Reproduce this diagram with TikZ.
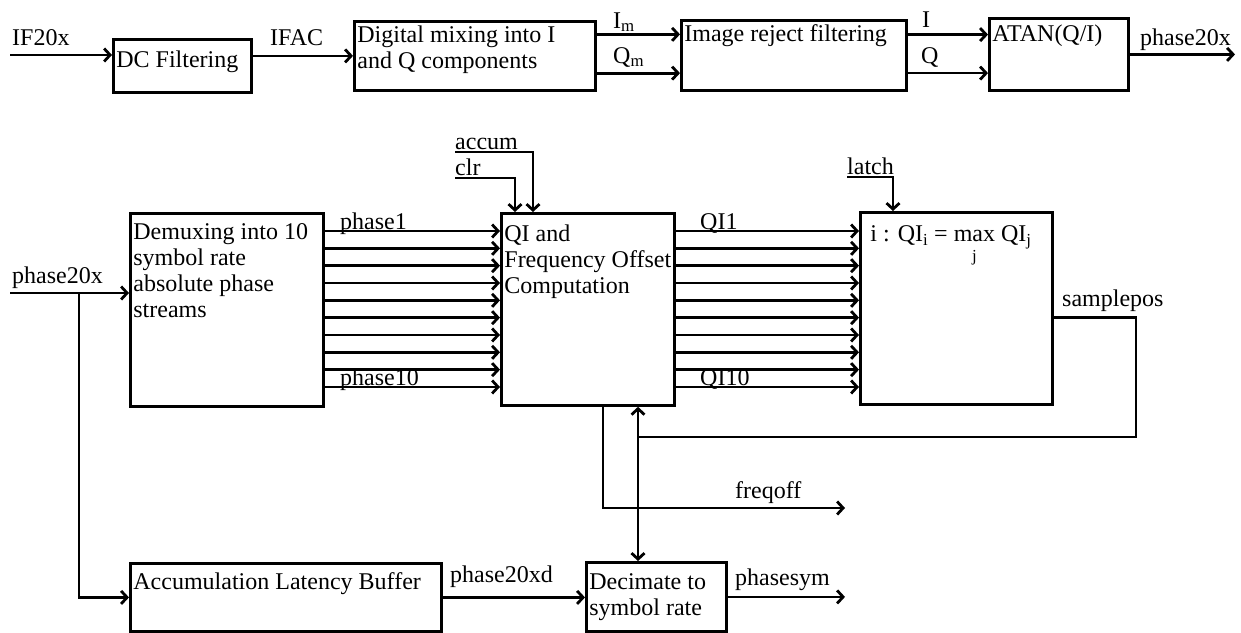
\documentclass[tikz,border=0pt]{standalone}
\usepackage{fontspec}
\usepackage{amsmath}
\setmainfont{Liberation Serif}
\usetikzlibrary{arrows.meta,calc}
% top-aligned text inside a fixed box: width, height, first baseline, text
\newcommand{\blktxt}[4]{\parbox[b][#2][t]{#1}{\leftskip=3pt\rightskip=0pt plus 1fil\parfillskip=0pt plus 1fil\rule{0pt}{#3}#4}}
\tikzset{
  sigarr/.style={-{Straight Barb[length=6pt,width=13pt]}, line width=2.8pt},
  dblarr/.style={{Straight Barb[length=6pt,width=13pt]}-{Straight Barb[length=6pt,width=13pt]}, line width=2.8pt},
  sigline/.style={line width=2.8pt},
  blk/.style={draw, line width=2.8pt, anchor=north west, inner sep=0pt},
  siglbl/.style={anchor=base west, inner sep=0pt},
}
\begin{document}
\begin{tikzpicture}[x=1pt, y=-1pt, font=\fontsize{24}{26}\selectfont]
  \useasboundingbox (0,0) rectangle (1241,632);
  % front end
  \node[blk] (dc) at (112,38) {\blktxt{138pt}{53pt}{28pt}{DC Filtering}};
  \node[blk] (mix) at (353,20) {\blktxt{241pt}{69pt}{21pt}{Digital mixing into I\\and Q components}};
  \node[blk] (irf) at (680,19) {\blktxt{225pt}{70pt}{21pt}{Image reject filtering}};
  \node[blk] (atan) at (988,17) {\blktxt{139pt}{72pt}{23pt}{ATAN(Q/I)}};
  \coordinate (ifin) at (10,55);
  \coordinate (phout) at (1235,53);
  \draw[sigarr] (ifin) -- (ifin -| dc.west);
  \draw[sigarr] (dc.east |- mix.west) -- (mix.west);
  \coordinate (im) at ($(mix.north east)!0.2!(mix.south east)$);
  \coordinate (qm) at ($(mix.north east)!0.74!(mix.south east)$);
  \draw[sigarr] (im) -- (im -| irf.west);
  \draw[sigarr] (qm) -- (qm -| irf.west);
  \coordinate (ii) at ($(irf.north east)!0.214!(irf.south east)$);
  \coordinate (qq) at ($(irf.north east)!0.743!(irf.south east)$);
  \draw[sigarr] (ii) -- (ii -| atan.west);
  \draw[sigarr] (qq) -- (qq -| atan.west);
  \draw[sigarr] (atan.east) -- (atan.east -| phout);
  \node[siglbl] (lif) at (12,45) {IF20x};
  \node[siglbl] (lifac) at (270,45) {IFAC};
  \node[siglbl] (lim) at (613,28) {I\textsubscript{m}};
  \node[siglbl] (lqm) at (613,63) {Q\textsubscript{m}};
  \node[siglbl] (li) at (922,27) {I};
  \node[siglbl] (lq) at (921,63) {Q};
  \node[siglbl] (lph) at (1140,45) {phase20x};

  % symbol timing recovery
  \node[blk] (dmx) at (129,212) {\blktxt{193pt}{193pt}{26pt}{Demuxing into 10\\symbol rate\\absolute phase\\streams}};
  \node[blk] (qi) at (500,212) {\blktxt{173pt}{192pt}{28pt}{QI and\\Frequency~Offset\\Computation}};
  \node[blk] (mx) at (859,211) {\blktxt{192pt}{192pt}{29pt}{\hspace*{7pt}i : QI\textsubscript{i} = $\underset{\text{\raisebox{-5pt}{j}}}{\text{max}}$ QI\textsubscript{j}}};
  \node[blk] (acc) at (129,562) {\blktxt{311pt}{68pt}{26pt}{Accumulation Latency Buffer}};
  \node[blk] (dec) at (585,561) {\blktxt{140pt}{69pt}{27pt}{Decimate to\\symbol rate}};
  \foreach \k in {0,...,9}{
    \coordinate (d\k) at ($(dmx.north east)+(0,{19+17.33*\k})$);
    \draw[sigarr] (d\k) -- (d\k -| qi.west);
    \coordinate (q\k) at ($(qi.north east)+(0,{19+17.33*\k})$);
    \draw[sigarr] (q\k) -- (q\k -| mx.west);
  }
  \node[siglbl] (lp1) at (340,229) {phase1};
  \node[siglbl] (lp10) at (340,385) {phase10};
  \node[siglbl] (lq1) at (700,229) {QI1};
  \node[siglbl] (lq10) at (700,385) {QI10};

  \coordinate (phin) at (10,293);
  \coordinate (br) at (79,293);
  \draw[sigarr] (phin) -- (phin -| dmx.west);
  \draw[sigarr] (br) |- (acc.west);
  \node[siglbl] (lphin) at (12,283) {phase20x};

  \node[siglbl] (lacc) at (455,149) {accum};
  \node[siglbl] (lclr) at (455,175) {clr};
  \node[siglbl] (llat) at (847,174) {latch};
  \draw[sigarr] (lacc.base west) ++(0,3) -| ($(qi.north west)+(33,0)$);
  \draw[sigarr] (lclr.base west) ++(0,3) -| ($(qi.north west)+(15,0)$);
  \draw[sigarr] (llat.base west) ++(0,3) -| ($(mx.north west)+(34,0)$);

  % feedback and outputs
  \coordinate (vx) at ($(dec.north west)+(53,0)$);
  \coordinate (sp) at ($(mx.north east)!0.547!(mx.south east)$);
  \coordinate (fbr) at (1136,437);
  \draw[sigline] (sp) -| (fbr) -- (fbr -| vx);
  \draw[dblarr] (vx |- qi.south) -- (vx);
  \coordinate (fq) at ($(qi.south west)+(103,0)$);
  \coordinate (fqend) at (845,508);
  \draw[sigarr] (fq) |- (fqend);
  \coordinate (psym) at (845,595);
  \draw[sigarr] (acc.east) -- (acc.east -| dec.west);
  \draw[sigarr] (dec.east) -- (dec.east -| psym);
  \node[siglbl] (lsp) at (1062,306) {samplepos};
  \node[siglbl] (lfq) at (735,498) {freqoff};
  \node[siglbl] (lpd) at (450,582) {phase20xd};
  \node[siglbl] (lps) at (735,585) {phasesym};
\end{tikzpicture}
\end{document}
